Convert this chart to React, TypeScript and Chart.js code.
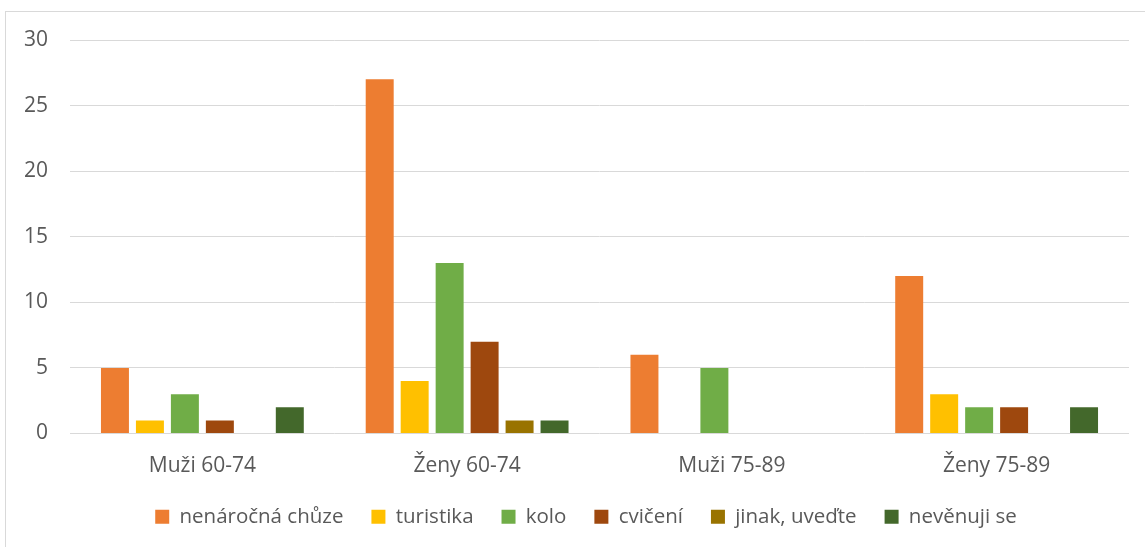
import React, { useEffect, useRef } from "react";
import { Chart, registerables } from "chart.js";

Chart.register(...registerables);

const categories = ["Muži 60-74", "Ženy 60-74", "Muži 75-89", "Ženy 75-89"];
const seriesNames = ["nenáročná chůze", "turistika", "kolo", "cvičení", "jinak, uveďte", "nevěnuji se"];
const chuze = [5, 27, 6, 12];
const turistika = [1, 4, 0, 3];
const kolo = [3, 13, 5, 2];
const cviceni = [1, 7, 0, 2];
const jinak = [0, 1, 0, 0];
const nevenuji = [2, 1, 0, 2];
const colors = ["#ED7D31", "#FFC000", "#70AD47", "#9E480E", "#997300", "#43682B"];
const yTicks = [0, 5, 10, 15, 20, 25, 30];

const FONT = "'Open Sans', 'DejaVu Sans', sans-serif";
const TEXT = "#595959";

const legendShift = {
  id: "legendShift",
  afterLayout(chart: any) {
    if (chart.legend) {
      chart.legend.left = 43;
    }
  },
};

export default function App() {
  const ref = useRef<HTMLCanvasElement | null>(null);
  useEffect(() => {
    if (!ref.current) return;
    const values = [chuze, turistika, kolo, cviceni, jinak, nevenuji];
    const chart = new Chart(ref.current, {
      type: "bar",
      data: {
        labels: categories,
        datasets: seriesNames.map((name, i) => ({
          label: name,
          data: values[i],
          backgroundColor: colors[i],
          borderWidth: 0,
          categoryPercentage: 0.7925,
          barPercentage: 0.8,
        })),
      },
      plugins: [legendShift],
      options: {
        responsive: false,
        animation: false,
        devicePixelRatio: 1,
        layout: { padding: { left: 0, right: 16, top: 40, bottom: 10 } },
        plugins: {
          tooltip: { enabled: false },
          legend: {
            position: "bottom",
            labels: {
              boxWidth: 14,
              boxHeight: 14,
              padding: 28,
              color: TEXT,
              font: { family: FONT, size: 20.5 },
            },
          },
        },
        scales: {
          x: {
            grid: { display: false, drawTicks: false },
            border: { display: false },
            ticks: { color: TEXT, font: { family: FONT, size: 21 }, padding: 20, maxRotation: 0 },
            afterFit: (s: any) => {
              s.height = 45;
            },
          },
          y: {
            min: 0,
            max: 30,
            afterBuildTicks: (s: any) => {
              s.ticks = yTicks.map((v) => ({ value: v }));
            },
            grid: { color: "#D9D9D9", lineWidth: 1, drawTicks: false },
            border: { display: false },
            ticks: { color: TEXT, font: { family: FONT, size: 21 }, padding: 22 },
            afterFit: (s: any) => {
              s.width = 70;
            },
          },
        },
      },
    });
    return () => chart.destroy();
  }, []);

  return (
    <div
      style={{
        position: "fixed",
        left: 0,
        top: 0,
        width: 1145,
        height: 547,
        overflow: "hidden",
        background: "#fff",
      }}
    >
      <div
        style={{
          position: "absolute",
          left: 5,
          top: 11,
          width: 1200,
          height: 600,
          borderLeft: "1px solid #D9D9D9",
          borderTop: "1px solid #D9D9D9",
        }}
      />
      <canvas
        ref={ref}
        width={1145}
        height={547}
        style={{ position: "absolute", left: 0, top: 0, width: 1145, height: 547 }}
      />
    </div>
  );
}
